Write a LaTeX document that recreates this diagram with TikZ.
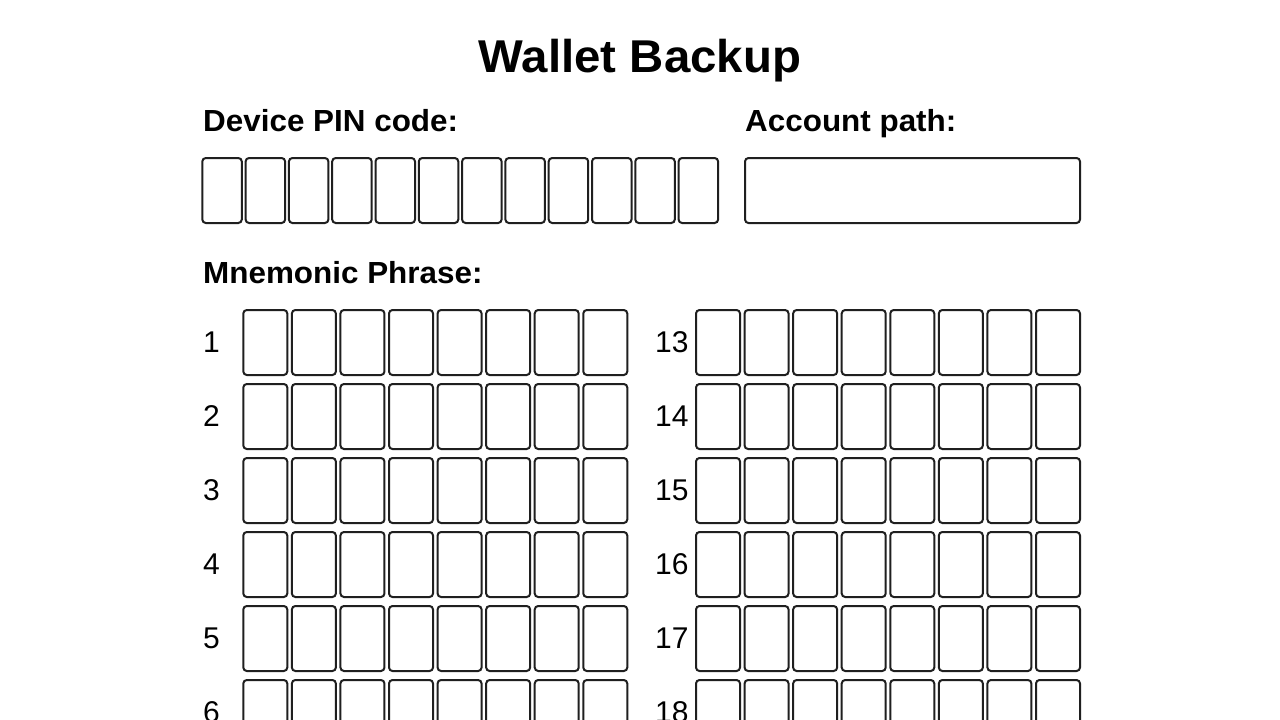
\documentclass[tikz,border=0pt]{standalone}
\usepackage{fontspec}
\setmainfont{Liberation Sans}
\newfontfamily\widefont[FakeStretch=1.03]{Liberation Sans}
\begin{document}
\begin{tikzpicture}[x=1pt,y=-1pt,
  cell/.style={draw=black!88, line width=2pt, rounded corners=3.5pt, inner sep=0pt, outer sep=0pt, anchor=north west, minimum height=65pt},
  pinbox/.style={cell, minimum width=39.5pt},
  wordbox/.style={cell, minimum width=44pt},
  acctbox/.style={cell, minimum width=335pt},
  heading/.style={font=\widefont\fontsize{30.5}{30}\selectfont\bfseries, inner sep=0pt, anchor=base west},
  titlestyle/.style={font=\widefont\fontsize{46}{46}\selectfont\bfseries, inner sep=0pt, anchor=base},
  num/.style={font=\fontsize{30}{30}\selectfont, inner sep=0pt, anchor=west}]
\useasboundingbox (0,0) rectangle (1280,720);
\clip (0,0) rectangle (1280,720);
\fill[white] (0,0) rectangle (1280,720);
\node[titlestyle] (title) at (640,72) {Wallet Backup};
\node[heading] (pinlabel) at (203,131) {Device PIN code:};
\node[heading] (acctlabel) at (745,131) {Account path:};
\foreach \i in {0,...,11} {
  \node[pinbox] (pin\i) at ({202.3+43.3*\i},158) {};
}
\node[acctbox] (acct) at (745,158) {};
\node[heading] (mnlabel) at (203,283) {Mnemonic Phrase:};
\foreach \r in {0,...,5} {
  \pgfmathtruncatemacro{\nl}{\r+1}
  \pgfmathtruncatemacro{\nr}{\r+13}
  \node[num] (numl\r) at (203,{342.5+74*\r}) {\nl};
  \node[num] (numr\r) at (655,{342.5+74*\r}) {\nr};
  \foreach \i in {0,...,7} {
    \node[wordbox] (wl\r-\i) at ({243.3+48.57*\i},{310+74*\r}) {};
    \node[wordbox] (wr\r-\i) at ({696+48.57*\i},{310+74*\r}) {};
  }
}
\end{tikzpicture}
\end{document}
